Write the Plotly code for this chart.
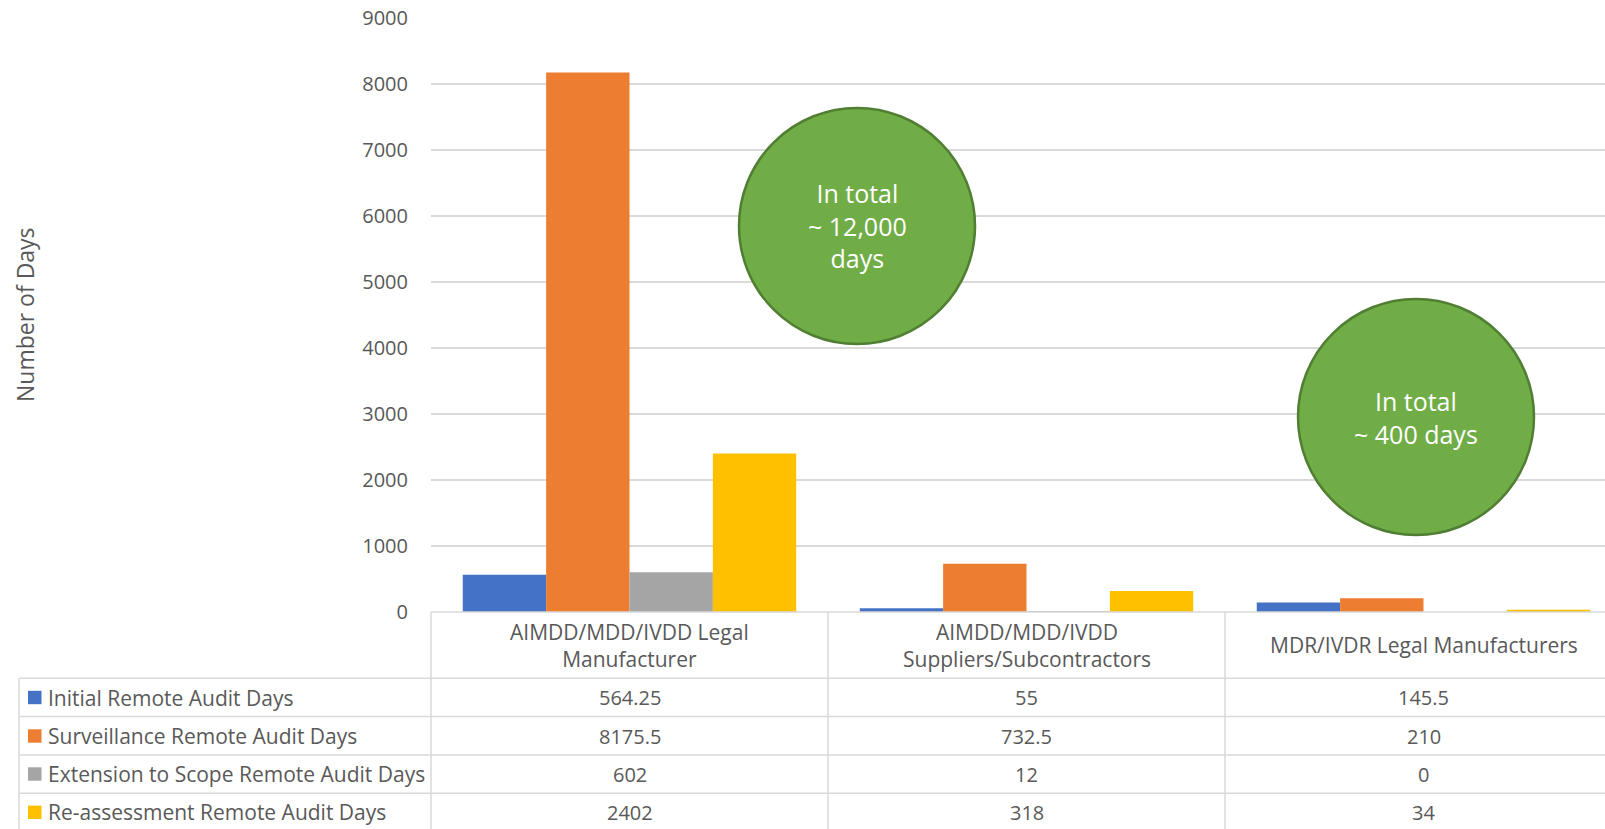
import plotly.graph_objects as go

categories = ["AIMDD/MDD/IVDD Legal<br>Manufacturer",
              "AIMDD/MDD/IVDD<br>Suppliers/Subcontractors",
              "MDR/IVDR Legal Manufacturers"]
series_names = ["Initial Remote Audit Days",
                "Surveillance Remote Audit Days",
                "Extension to Scope Remote Audit Days",
                "Re-assessment Remote Audit Days"]
initial = [564.25, 55, 145.5]
surveillance = [8175.5, 732.5, 210]
extension = [602, 12, 0]
reassessment = [2402, 318, 34]
series_values = [initial, surveillance, extension, reassessment]
colors = ["#4472C4", "#ED7D31", "#A5A5A5", "#FFC000"]
y_ticks = [0, 1000, 2000, 3000, 4000, 5000, 6000, 7000, 8000, 9000]
bubbles = [("In total<br>~ 12,000<br>days", 857, 226),
           ("In total<br>~ 400 days", 1416, 417)]

W, H = 1605, 829
L, T, B_PX = 431, 18, 612
PW = W - L
PH = B_PX - T
COL_W = 397.0

def px(x):
    return (x - L) / PW

def py(y):
    return (B_PX - y) / PH

FONT = "Open Sans, Liberation Sans, sans-serif"
TXT = "#595959"
GRID = "#D9D9D9"

xpos = list(range(len(categories)))
fig = go.Figure()
for name, vals, c in zip(series_names, series_values, colors):
    fig.add_trace(go.Bar(x=xpos, y=vals, name=name, marker=dict(color=c, line=dict(width=0)),
                         showlegend=False))

x_max = -0.5 + PW / COL_W

shapes = []
annotations = []

# table lines
row_lines = [678.3, 716.6, 755, 793.3]
shapes.append(dict(type="line", xref="paper", yref="paper", x0=px(L), x1=1, y0=py(612), y1=py(612),
                   line=dict(color=GRID, width=1.5)))
for yl in row_lines:
    shapes.append(dict(type="line", xref="paper", yref="paper", x0=px(19), x1=1, y0=py(yl), y1=py(yl),
                       line=dict(color=GRID, width=1.5)))
shapes.append(dict(type="line", xref="paper", yref="paper", x0=px(19), x1=px(19), y0=py(678.3), y1=py(829),
                   line=dict(color=GRID, width=1.5)))
for i in range(len(categories)):
    xl = L + i * COL_W
    shapes.append(dict(type="line", xref="paper", yref="paper", x0=px(xl), x1=px(xl), y0=py(612), y1=py(829),
                       line=dict(color=GRID, width=1.5)))

# header labels
for i, cat in enumerate(categories):
    annotations.append(dict(x=i, xref="x", y=py(645), yref="paper", text=cat, showarrow=False,
                            font=dict(family=FONT, size=21, color=TXT), align="center",
                            xanchor="center", yanchor="middle"))

# rows
row_centers = [697.5, 736, 774, 812.3]
for r, (name, vals, c) in enumerate(zip(series_names, series_values, colors)):
    yc = row_centers[r]
    shapes.append(dict(type="rect", xref="paper", yref="paper", x0=px(28), x1=px(41.5),
                       y0=py(yc + 6.7), y1=py(yc - 6.7), fillcolor=c, line=dict(width=0)))
    annotations.append(dict(x=px(46), xref="paper", y=py(yc), yref="paper", text=name, showarrow=False,
                            font=dict(family=FONT, size=21, color=TXT), xanchor="left", yanchor="middle"))
    for i, v in enumerate(vals):
        annotations.append(dict(x=i, xref="x", y=py(yc), yref="paper", text=f"{v:g}", showarrow=False,
                                font=dict(family=FONT, size=20, color=TXT), xanchor="center", yanchor="middle"))

# bubbles
R = 118
for text, cx, cy in bubbles:
    shapes.append(dict(type="circle", xref="paper", yref="paper", x0=px(cx - R), x1=px(cx + R),
                       y0=py(cy + R), y1=py(cy - R), fillcolor="#70AD47",
                       line=dict(color="#507E32", width=2.5), layer="above"))
    annotations.append(dict(x=px(cx), xref="paper", y=py(cy), yref="paper", text=text, showarrow=False,
                            font=dict(family=FONT, size=25, color="white"), align="center",
                            xanchor="center", yanchor="middle"))

# y axis title
annotations.append(dict(x=px(25), xref="paper", y=0.5, yref="paper", text="Number of Days", textangle=-90,
                        showarrow=False, font=dict(family=FONT, size=23, color=TXT),
                        xanchor="center", yanchor="middle"))

fig.update_layout(
    width=W, height=H,
    margin=dict(l=L, r=0, t=T, b=H - B_PX, pad=0),
    paper_bgcolor="white", plot_bgcolor="white",
    barmode="group", bargap=0.16, bargroupgap=0,
    shapes=shapes, annotations=annotations,
    xaxis=dict(range=[-0.5, x_max], showticklabels=False, showgrid=False, zeroline=False,
               showline=False, ticks="", fixedrange=True),
    yaxis=dict(range=[0, 9000], tickvals=y_ticks, showgrid=True, gridcolor=GRID, gridwidth=1.5,
               zeroline=False, showline=False, ticks="", ticklabelstandoff=22,
               tickfont=dict(family=FONT, size=20, color=TXT)),
    font=dict(family=FONT, color=TXT),
)

fig.write_html("out.html", config={"displayModeBar": False},
               post_script="document.body.style.margin='0';document.body.style.padding='0';document.body.style.overflow='hidden';")
